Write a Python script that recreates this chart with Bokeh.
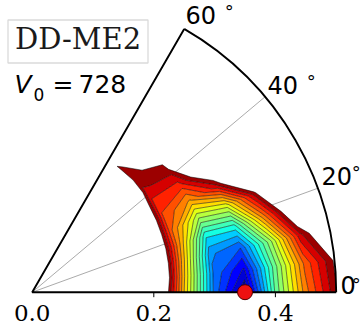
import numpy as np
from bokeh.plotting import figure
from bokeh.models import Range1d, Label, BoxAnnotation
from bokeh.embed import file_html
from bokeh.resources import INLINE

# ---- data (normalised energy, 0 = minimum, 1 = highest plotted contour) ----
beta = [0.20, 0.25, 0.30, 0.35, 0.40, 0.45, 0.50]
gamma_deg = [0, 6, 12, 18, 24, 30, 36, 42, 48, 54, 60]
E_g0 = [1.28, 0.70, 0.23, 0.00, 0.46, 0.78, 0.99]
E_g6 = [1.33, 0.72, 0.24, 0.09, 0.47, 0.81, 1.01]
E_g12 = [1.33, 0.76, 0.26, 0.20, 0.53, 0.93, 1.15]
E_g18 = [1.33, 0.80, 0.36, 0.38, 0.77, 1.15, 1.40]
E_g24 = [1.37, 0.81, 0.55, 0.62, 0.98, 1.40, 1.70]
E_g30 = [1.41, 0.84, 0.74, 0.94, 1.30, 1.70, 2.00]
E_g36 = [1.42, 0.88, 0.88, 1.15, 1.60, 2.00, 2.00]
E_g42 = [1.54, 0.94, 0.98, 1.50, 2.00, 2.00, 2.00]
E_g48 = [1.50, 0.98, 1.03, 1.80, 2.00, 2.00, 2.00]
E_g54 = [1.50, 0.99, 1.10, 2.00, 2.00, 2.00, 2.00]
E_g60 = [1.60, 1.02, 1.20, 2.00, 2.00, 2.00, 2.00]
n_levels = 20
min_beta = [0.35]
min_gamma = [0.0]
r_ticks = [0.0, 0.2, 0.4]
r_tick_labels = ["0.0", "0.2", "0.4"]
grid_gamma = [20, 40]
r_max = 0.5
title_text = "DD-ME2"

# ---- geometry ----
W, H = 363, 325
S = 608.0          # pixels per unit of beta
OX, OY = 31.7, 291.7
BASE_SHIFT = 0.38  # svg text baseline correction (fraction of font size)


def d(xp, yp):
    return (xp - OX) / S, (OY - yp) / S


p = figure(width=W, height=H, output_backend="svg", toolbar_location=None,
           x_axis_type=None, y_axis_type=None, min_border=0,
           x_range=Range1d(-OX / S, (W - OX) / S),
           y_range=Range1d((OY - H) / S, OY / S))
p.outline_line_color = None
p.grid.visible = False
p.background_fill_color = "white"
p.border_fill_color = "white"


def lab(txt, xp, yb, fs, font="DejaVu Sans", align="left", style="normal", color="black"):
    x, y = d(xp, yb - BASE_SHIFT * fs)
    p.add_layout(Label(x=x, y=y, text=txt, text_align=align, text_baseline="alphabetic",
                       text_font=font, text_font_style=style, text_font_size="%dpx" % fs,
                       text_color=color))


# grid lines
for g in grid_gamma:
    gr = np.radians(g)
    p.line([0, r_max * np.cos(gr)], [0, r_max * np.sin(gr)], line_color="#a0a0a0", line_width=0.9)

# contour surface
E = np.array([E_g0, E_g6, E_g12, E_g18, E_g24, E_g30, E_g36, E_g42, E_g48, E_g54, E_g60])
B, G = np.meshgrid(np.array(beta), np.radians(np.array(gamma_deg)))
X = B * np.cos(G)
Y = B * np.sin(G)
levels = list(np.linspace(0.0, 1.0, n_levels + 1))


def jet(v):
    r = np.interp(v, [0, 0.35, 0.66, 0.89, 1], [0, 0, 1, 1, 0.5])
    g = np.interp(v, [0, 0.125, 0.375, 0.64, 0.91, 1], [0, 0, 1, 1, 0, 0])
    b = np.interp(v, [0, 0.11, 0.34, 0.65, 1], [0.5, 1, 1, 0, 0])
    return "#%02x%02x%02x" % (int(round(r * 255)), int(round(g * 255)), int(round(b * 255)))


fill_colors = [jet((i + 0.5) / n_levels) for i in range(n_levels)]
p.contour(X, Y, E, levels, fill_color=fill_colors, line_color="black", line_width=0.6, line_alpha=0.85)

# frame
a60 = np.radians(60)
p.line([r_max, 0, r_max * np.cos(a60)], [0, 0, r_max * np.sin(a60)], line_color="black", line_width=1.9)
p.arc(x=0, y=0, radius=r_max, start_angle=0, end_angle=a60, line_color="black", line_width=1.9)

# r ticks
for r in r_ticks[1:]:
    p.segment(x0=[r], y0=[0], x1=[r], y1=[-5 / S], line_color="black", line_width=1)

# minimum marker
mx = [b_ * np.cos(np.radians(g_)) for b_, g_ in zip(min_beta, min_gamma)]
my = [b_ * np.sin(np.radians(g_)) for b_, g_ in zip(min_beta, min_gamma)]
p.scatter(mx, my, size=15, fill_color="#ee1111", line_color="#550000", line_width=1)

# r tick labels
for r, t in zip(r_ticks, r_tick_labels):
    lab(t, OX + r * S, 321.5, 23, font="DejaVu Serif", align="center")

# angle labels: (text, left px, baseline px, degree-ring centre x, centre y)
DEG_FS = 18
ang_labels = [("60", 185, 24, 229, 7), ("40", 267, 94, 311, 77), ("20", 321, 185, 356, 168), ("0", 340, 294, 356, 280)]
for txt, xl, yb, cx, cy in ang_labels:
    lab(txt, xl, yb, 24)
    lab("°", cx - 0.27 * DEG_FS, cy + 0.58 * DEG_FS, DEG_FS)

# title box
l, t_ = d(7.5, 19.5)
r_, b_ = d(147.5, 62.5)
p.add_layout(BoxAnnotation(left=l, right=r_, top=t_, bottom=b_, fill_color="white", fill_alpha=1,
                           line_color="#858585", line_width=1.3))
lab(title_text, 77.5, 49.5, 29, font="DejaVu Serif", align="center", color="#1a1a1a")

# V0 = 728
lab("V", 14, 93, 25, style="italic")
lab("0", 33, 100, 17)
lab("=", 52, 93, 25)
lab("728", 78, 93, 25)

open("out.html", "w").write(file_html(p, INLINE))
